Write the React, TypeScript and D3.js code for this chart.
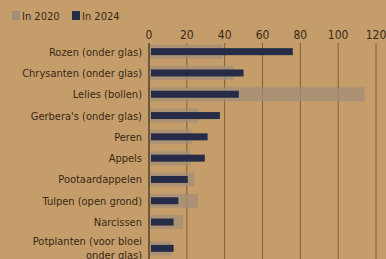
import React from "react";
import * as d3 from "d3";

const categories = [
  "Rozen (onder glas)",
  "Chrysanten (onder glas)",
  "Lelies (bollen)",
  "Gerbera's (onder glas)",
  "Peren",
  "Appels",
  "Pootaardappelen",
  "Tulpen (open grond)",
  "Narcissen",
  "Potplanten (voor bloei|onder glas)",
];
const values2020 = [39, 45, 114, 26, 23, 22, 24, 26, 18, 12];
const values2024 = [76, 50, 47.5, 37.5, 31, 29.5, 20.5, 15.5, 13, 13];
const ticks = [0, 20, 40, 60, 80, 100, 120];
const legendLabels = ["In 2020", "In 2024"];

const W = 386;
const H = 259;
const BG = "#c49d6b";
const C2020 = "#a38f78";
const C2024 = "#262c48";
const TEXT = "#3b2814";
const GRID = "#7a5630";
const FONT = "'DejaVu Sans Condensed', 'Liberation Sans Narrow', sans-serif";

export default function App() {
  const x = d3.scaleLinear().domain([0, 120]).range([149, 376]);
  const y = d3.scaleBand<string>().domain(categories).range([41, 254]).paddingInner(0).paddingOuter(0);
  const rowCenter = (c: string) => (y(c) ?? 0) + y.bandwidth() / 2 + (c.includes("|") ? 5 : 0);
  const legendColors = [C2020, C2024];

  return (
    <svg
      width={W}
      height={H}
      style={{ position: "absolute", left: 0, top: 0, display: "block" }}
      fontFamily={FONT}
    >
      <rect x={0} y={0} width={W} height={H} fill={BG} />
      {/* legend */}
      {legendLabels.map((l, i) => (
        <g key={l} transform={`translate(${12 + i * 60},0)`}>
          <rect x={0} y={11} width={8} height={9} fill={legendColors[i]} />
          <text x={10} y={20} fontSize={11} fill={TEXT}>
            {l}
          </text>
        </g>
      ))}
      {/* ticks labels */}
      {ticks.map((t) => (
        <text key={t} x={x(t)} y={39} fontSize={12} fill={TEXT} textAnchor="middle">
          {t}
        </text>
      ))}
      {/* gridlines */}
      {ticks.map((t) => (
        <line
          key={"g" + t}
          x1={x(t)}
          x2={x(t)}
          y1={43}
          y2={H}
          stroke={t === 0 ? "#3a2816" : GRID}
          strokeWidth={t === 0 ? 1.2 : 0.9}
        />
      ))}
      {/* 2020 bars */}
      {categories.map((c, i) => (
        <rect
          key={"a" + c}
          x={x(0) + 1}
          y={rowCenter(c) - 7}
          width={x(values2020[i]) - x(0) - 1}
          height={14}
          fill={C2020}
          opacity={0.75}
        />
      ))}
      {/* 2024 bars */}
      {categories.map((c, i) => (
        <rect
          key={"b" + c}
          x={x(0) + 2}
          y={rowCenter(c) - 3.5}
          width={x(values2024[i]) - x(0) - 2}
          height={7}
          fill={C2024}
        />
      ))}
      {/* category labels */}
      {categories.map((c) => {
        const lines = c.split("|");
        const cy = rowCenter(c);
        return (
          <text key={"l" + c} x={142} fontSize={11} fill={TEXT} textAnchor="end">
            {lines.map((ln, k) => (
              <tspan key={k} x={142} y={cy + 4 - (lines.length - 1) * 7 + k * 14}>
                {ln}
              </tspan>
            ))}
          </text>
        );
      })}
    </svg>
  );
}
